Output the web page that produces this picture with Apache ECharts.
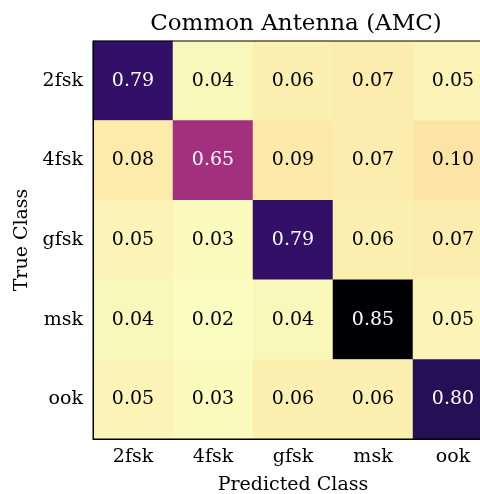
<!DOCTYPE html>
<html>
<head>
<meta charset="utf-8">
<script src="https://cdn.jsdelivr.net/npm/echarts@6/dist/echarts.min.js"></script>
<style>
  html, body { margin: 0; padding: 0; background: #fff; }
  #main { width: 480px; height: 494px; }
</style>
</head>
<body>
<div id="main"></div>
<script>
// classes, predicted on x, true on y (top to bottom)
const predictedClasses = ["2fsk", "4fsk", "gfsk", "msk", "ook"];
const trueClasses = ["2fsk", "4fsk", "gfsk", "msk", "ook"];

// one row per true class
const row2fsk = [0.79, 0.04, 0.06, 0.07, 0.05];
const row4fsk = [0.08, 0.65, 0.09, 0.07, 0.10];
const rowGfsk = [0.05, 0.03, 0.79, 0.06, 0.07];
const rowMsk = [0.04, 0.02, 0.04, 0.85, 0.05];
const rowOok = [0.05, 0.03, 0.06, 0.06, 0.80];
const rows = [row2fsk, row4fsk, rowGfsk, rowMsk, rowOok];

const font = "DejaVu Serif";

let cells = [];
rows.forEach(function (row, y) {
  row.forEach(function (v, x) {
    cells.push({
      value: [x, y, v],
      label: { color: v > 0.5 ? "#ffffff" : "#000000" }
    });
  });
});

let chart = echarts.init(document.getElementById("main"), null, { renderer: "canvas" });
let option = {
  backgroundColor: "#ffffff",
  animation: false,
  title: {
    text: "Common Antenna (AMC)",
    left: 291,
    textAlign: "center",
    top: 8,
    textStyle: { fontFamily: font, fontSize: 23, fontWeight: "normal", color: "#000" }
  },
  grid: {
    show: true,
    z: 10,
    backgroundColor: "transparent",
    borderColor: "#000",
    borderWidth: 1,
    left: 93,
    top: 41,
    width: 400,
    height: 398,
    outerBoundsMode: "none",
    containLabel: false
  },
  xAxis: {
    type: "category",
    data: predictedClasses,
    z: 5,
    name: "Predicted Class",
    nameLocation: "middle",
    nameGap: 37,
    nameTextStyle: { fontFamily: font, fontSize: 19, color: "#000" },
    axisLine: { lineStyle: { color: "#000", width: 1 } },
    axisTick: { alignWithLabel: true, length: 5, lineStyle: { color: "#000" } },
    axisLabel: { fontFamily: font, fontSize: 19, color: "#000", margin: 9 },
    splitArea: { show: false },
    splitLine: { show: false }
  },
  yAxis: {
    type: "category",
    data: trueClasses,
    inverse: true,
    z: 5,
    name: "True Class",
    nameLocation: "middle",
    nameGap: 60,
    nameTextStyle: { fontFamily: font, fontSize: 19, color: "#000" },
    axisLine: { lineStyle: { color: "#000", width: 1 } },
    axisTick: { alignWithLabel: true, length: 5, lineStyle: { color: "#000" } },
    axisLabel: { fontFamily: font, fontSize: 19, color: "#000", margin: 10 },
    splitArea: { show: false },
    splitLine: { show: false }
  },
  visualMap: {
    type: "piecewise",
    show: false,
    dimension: 2,
    pieces: [
      { lt: 0.025, color: "#fbfcbf" },
      { gte: 0.025, lt: 0.035, color: "#fbfbbd" },
      { gte: 0.035, lt: 0.045, color: "#f9f7ba" },
      { gte: 0.045, lt: 0.055, color: "#fbf4b6" },
      { gte: 0.055, lt: 0.065, color: "#fcf0b1" },
      { gte: 0.065, lt: 0.075, color: "#fcecae" },
      { gte: 0.075, lt: 0.085, color: "#fdebac" },
      { gte: 0.085, lt: 0.095, color: "#fde9aa" },
      { gte: 0.095, lt: 0.2, color: "#fce4a6" },
      { gte: 0.2, lt: 0.7, color: "#a3307e" },
      { gte: 0.7, lt: 0.795, color: "#331067" },
      { gte: 0.795, lt: 0.825, color: "#241155" },
      { gte: 0.825, color: "#000004" }
    ]
  },
  series: [
    {
      type: "heatmap",
      data: cells,
      z: 1,
      label: {
        show: true,
        fontFamily: font,
        fontSize: 19,
        formatter: function (p) {
          return p.value[2].toFixed(2);
        }
      }
    }
  ]
};
chart.setOption(option);
</script>
</body>
</html>
